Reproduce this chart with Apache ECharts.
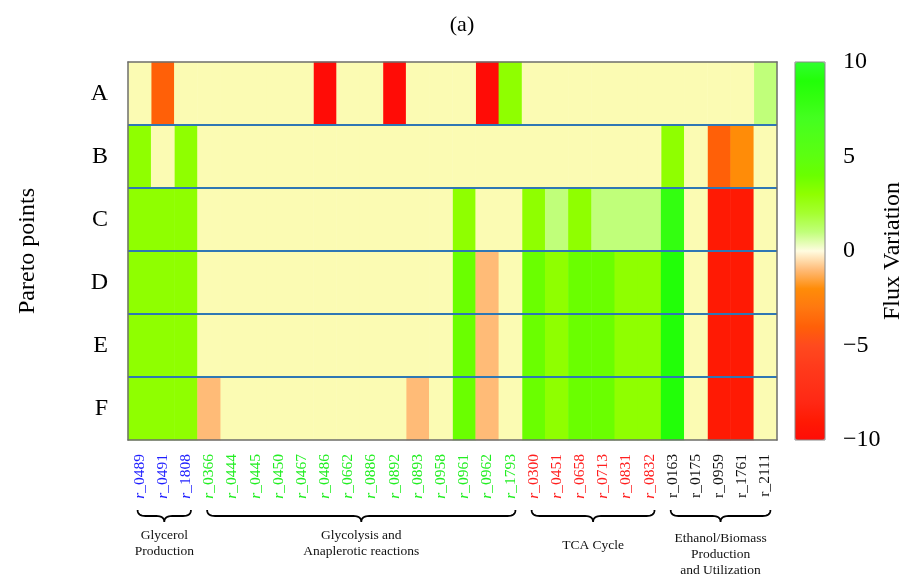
<!DOCTYPE html>
<html><head><meta charset="utf-8">
<script src="https://cdn.jsdelivr.net/npm/echarts@6/dist/echarts.min.js"></script>
<style>html,body{margin:0;padding:0;background:#fff}#c{width:914px;height:578px}</style>
</head><body><div id="c"></div>
<script>
// ---- data ----
const reactions = ['r_0489','r_0491','r_1808','r_0366','r_0444','r_0445','r_0450','r_0467','r_0486','r_0662','r_0886','r_0892','r_0893','r_0958','r_0961','r_0962','r_1793','r_0300','r_0451','r_0658','r_0713','r_0831','r_0832','r_0163','r_0175','r_0959','r_1761','r_2111'];
const paretoPoints = ['A','B','C','D','E','F'];
const rowA = [0,-4,0,0,0,0,0,0,-10,0,0,-10,0,0,0,-10,3,0,0,0,0,0,0,0,0,0,0,1];
const rowB = [3,0,3,0,0,0,0,0,0,0,0,0,0,0,0,0,0,0,0,0,0,0,0,3,0,-4,-2,0];
const rowC = [3,3,3,0,0,0,0,0,0,0,0,0,0,0,3,0,0,3,1,3,1,1,1,8,0,-9,-9,0];
const rowD = [3,3,3,0,0,0,0,0,0,0,0,0,0,0,4,-1,0,4,3,4,4,3,3,9,0,-9,-9,0];
const rowE = [3,3,3,0,0,0,0,0,0,0,0,0,0,0,4,-1,0,4,3,4,4,3,3,9,0,-9,-9,0];
const rowF = [3,3,3,-1,0,0,0,0,0,0,0,0,-1,0,4,-1,0,4,3,4,4,3,3,9,0,-9,-9,0];
const groupNames = ['Glycerol\nProduction','Glycolysis and\nAnaplerotic reactions','TCA Cycle','Ethanol/Biomass\nProduction\nand Utilization'];
const groupSizes = [3,14,6,5];
const colorbarTicks = [10,5,0,-5,-10];
const colorbarMin = -10, colorbarMax = 10;

// ---- styles ----
const FONT = '"Liberation Serif", "DejaVu Serif", serif';
const groupLabelColors = ['#1f1fff','#22ee22','#ff1f1f','#111'];
const groupItalic = [true,true,true,false];
const groupLabelCenterY = [543,543,545,554];
const stops = ['#ff0c06','#ff1a04','#ff2814','#ff3218','#ff3c1c','#ff4a1e','#ff6008','#ff7810','#ff8c08','#ffbb77','#fffce0',
               '#c0ff7a','#a5ff30','#8fff00','#6aff00','#5cff10','#50ff18','#44ff20','#33ff10','#22ff08','#30ff30'];

const rows = [rowA,rowB,rowC,rowD,rowE,rowF];
const nonZero = [], zeros = [];
rows.forEach((r, yi) => r.forEach((v, xi) => { (v === 0 ? zeros : nonZero).push([xi, yi, v]); }));

const colGroup = [];
groupSizes.forEach((n, g) => { for (let k = 0; k < n; k++) colGroup.push(g); });

const rich = {};
groupLabelColors.forEach((c, g) => {
  rich['i' + g] = {color: c, fontFamily: FONT, fontSize: 15.5, fontStyle: groupItalic[g] ? 'italic' : 'normal'};
  rich['n' + g] = {color: c, fontFamily: FONT, fontSize: 15.5};
});

const chart = echarts.init(document.getElementById('c'), null, {renderer: 'canvas', width: 914, height: 578});
const borderLine = {show: true, lineStyle: {color: '#6e6e6e', width: 1.5}};
chart.setOption({
  animation: false,
  backgroundColor: '#fff',
  grid: {left: 128, right: 137, top: 62, bottom: 138, containLabel: false},
  xAxis: [{
    type: 'category', data: reactions, z: 10,
    axisLine: borderLine, axisTick: {show: false}, splitLine: {show: false},
    axisLabel: {interval: 0, rotate: 90, margin: 14,
      formatter: (v, i) => { const g = colGroup[i]; return '{i' + g + '|' + v.slice(0,1) + '}{n' + g + '|' + v.slice(1) + '}'; },
      rich: rich}
  }, {
    type: 'category', data: reactions, position: 'top', z: 10,
    axisLine: borderLine, axisTick: {show: false}, axisLabel: {show: false}, splitLine: {show: false}
  }],
  yAxis: [{
    type: 'category', data: paretoPoints, inverse: true, z: 10,
    axisLine: borderLine, axisTick: {show: false},
    axisLabel: {fontFamily: FONT, fontSize: 24, color: '#000', margin: 20},
    name: 'Pareto points', nameLocation: 'middle', nameGap: 88, nameRotate: 90,
    nameTextStyle: {fontFamily: FONT, fontSize: 24, color: '#000'},
    splitLine: {show: true, showMinLine: false, showMaxLine: false, lineStyle: {color: '#2f77b4', width: 2}}
  }, {
    type: 'category', data: paretoPoints, inverse: true, position: 'right', z: 10,
    axisLine: borderLine, axisTick: {show: false}, axisLabel: {show: false}, splitLine: {show: false}
  }],
  visualMap: {
    type: 'continuous', min: colorbarMin, max: colorbarMax, seriesIndex: 0,
    left: 795, top: 62, itemWidth: 30, itemHeight: 378, padding: 0,
    calculable: false, hoverLink: false, text: ['', ''], showLabel: false,
    inRange: {color: stops}
  },
  series: [{
    type: 'heatmap', data: nonZero, itemStyle: {borderWidth: 0}, emphasis: {disabled: true}
  }, {
    type: 'heatmap', data: zeros, itemStyle: {color: '#fbfbb3', borderWidth: 0}, emphasis: {disabled: true}
  }]
});

// ---- annotations positioned from the axes ----
const px = i => chart.convertToPixel({xAxisIndex: 0}, i);
function quad(p0, p1, p2, out) {
  for (let k = 1; k <= 8; k++) {
    const t = k / 8, a = (1 - t) * (1 - t), b = 2 * (1 - t) * t, c = t * t;
    out.push([a * p0[0] + b * p1[0] + c * p2[0], a * p0[1] + b * p1[1] + c * p2[1]]);
  }
}
const graphics = [];
graphics.push({type: 'text', x: 462, y: 25, style: {text: '(a)', font: '22px ' + FONT, fill: '#000', textAlign: 'center', textVerticalAlign: 'middle'}});
let start = 0;
groupSizes.forEach((n, g) => {
  const xl = px(start) - 2, xr = px(start + n - 1) + 5;
  const xm = (xl + xr) / 2, yt = 510, h = 12, ym = yt + h / 2, yb = yt + h, q = 8;
  const pts = [[xl, yt]];
  quad([xl, yt], [xl, ym], [xl + q, ym], pts);
  pts.push([xm - q, ym]);
  quad([xm - q, ym], [xm, ym], [xm, yb], pts);
  quad([xm, yb], [xm, ym], [xm + q, ym], pts);
  pts.push([xr - q, ym]);
  quad([xr - q, ym], [xr, ym], [xr, yt], pts);
  graphics.push({type: 'polyline', shape: {points: pts}, style: {fill: null, stroke: '#000', lineWidth: 1.8}});
  graphics.push({type: 'text', x: xm, y: groupLabelCenterY[g], style: {text: groupNames[g], font: '13.5px ' + FONT, fill: '#111', textAlign: 'center', textVerticalAlign: 'middle', lineHeight: 16}});
  start += n;
});
// colorbar frame, ticks and title
const cbTop = 62, cbH = 378, cbX = 795;
graphics.push({type: 'rect', shape: {x: cbX, y: cbTop, width: 30, height: cbH}, style: {fill: null, stroke: '#888', lineWidth: 1}, z: 100});
colorbarTicks.forEach(v => {
  const y = cbTop + (colorbarMax - v) / (colorbarMax - colorbarMin) * cbH;
  graphics.push({type: 'text', x: 843, y: y, style: {text: (v < 0 ? '\u2212' : '') + Math.abs(v), font: '24px ' + FONT, fill: '#000', textAlign: 'left', textVerticalAlign: 'middle'}});
});
graphics.push({type: 'text', x: 893, y: 251, rotation: Math.PI / 2, style: {text: 'Flux Variation', font: '24px ' + FONT, fill: '#000', textAlign: 'center', textVerticalAlign: 'middle'}});
chart.setOption({graphic: graphics});
</script></body></html>
